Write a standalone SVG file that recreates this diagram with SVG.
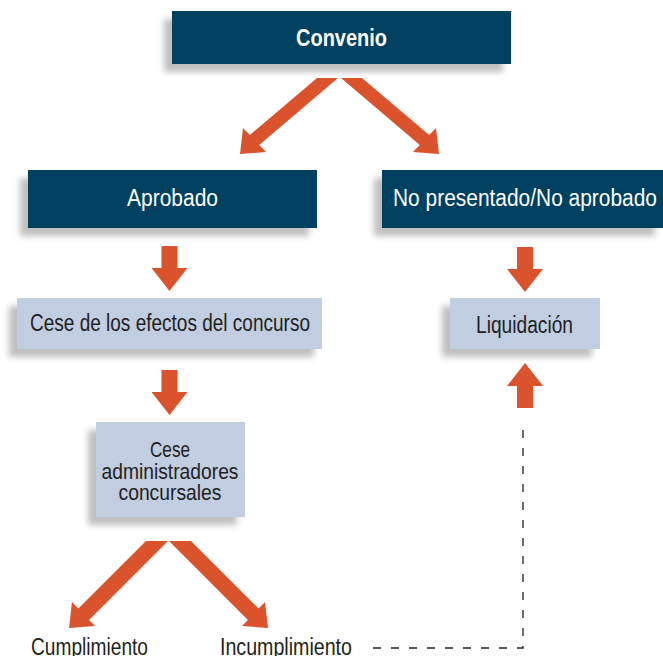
<svg xmlns="http://www.w3.org/2000/svg" xmlns:xlink="http://www.w3.org/1999/xlink" width="663" height="656" viewBox="0 0 663 656">
  <style>
    .dark { fill: #003f60; }
    .light { fill: #c1cde0; }
    .box { filter: url(#shadow); }
    .t { font-family: "Liberation Sans", Arial, sans-serif; text-anchor: middle; }
    .tw { fill: #ffffff; font-size: 23px; }
    .tb { fill: #ffffff; font-size: 24px; font-weight: bold; }
    .td { fill: #231f20; font-size: 23px; }
    .ts { fill: #231f20; font-size: 22px; }
    .arrow { fill: #da532c; }
    .dash { fill: none; stroke: #231f20; stroke-width: 1.3; stroke-dasharray: 8 10; }
  </style>
  <defs>
    <filter id="shadow" x="-20%" y="-30%" width="140%" height="170%">
      <feDropShadow dx="-8" dy="8" stdDeviation="3" flood-color="#000000" flood-opacity="0.25"/>
    </filter>
    <path id="arrowDown" d="M-8,0 H8 V22 H18 L0,45 L-18,22 H-8 Z"/>
  </defs>
  <rect width="663" height="656" fill="#ffffff"/>

  <g id="connectors">
    <polygon class="arrow" points="317,78 338,78 259.2,144.9 266,152 240,154 243,128 249.8,135.1"/>
    <polygon class="arrow" points="362,78 341,78 419.8,144.9 413,152 439,154 436,128 429.2,135.1"/>
    <use xlink:href="#arrowDown" href="#arrowDown" class="arrow" transform="translate(169.5,246)"/>
    <use xlink:href="#arrowDown" href="#arrowDown" class="arrow" transform="translate(169.5,370)"/>
    <use xlink:href="#arrowDown" href="#arrowDown" class="arrow" transform="translate(525,247)"/>
    <use xlink:href="#arrowDown" href="#arrowDown" class="arrow" transform="translate(525,408) scale(1,-1)"/>
    <polygon class="arrow" points="146,541 168,541 89.1,619.9 95,626 69,628 72,602 78.4,608.6"/>
    <polygon class="arrow" points="191,541 169,541 247.9,619.9 242,626 268,628 265,602 258.6,608.6"/>
    <path class="dash" d="M373,648 H523 V425"/>
  </g>

  <g id="node-convenio">
    <rect class="dark box" x="172" y="11" width="339" height="53"/>
    <text class="t tb" x="341.5" y="46" textLength="91" lengthAdjust="spacingAndGlyphs">Convenio</text>
  </g>

  <g id="node-aprobado">
    <rect class="dark box" x="28" y="170" width="289" height="58"/>
    <text class="t tw" x="172.5" y="206" textLength="91" lengthAdjust="spacingAndGlyphs">Aprobado</text>
  </g>

  <g id="node-no-aprobado">
    <rect class="dark box" x="382" y="170" width="281" height="58"/>
    <text class="t tw" x="525" y="206" textLength="264" lengthAdjust="spacingAndGlyphs">No presentado/No aprobado</text>
  </g>

  <g id="node-cese-efectos">
    <rect class="light box" x="17" y="298" width="305" height="51"/>
    <text class="t td" x="170" y="331" textLength="280" lengthAdjust="spacingAndGlyphs">Cese de los efectos del concurso</text>
  </g>

  <g id="node-liquidacion">
    <rect class="light box" x="450" y="298" width="150" height="51"/>
    <text class="t td" x="524.5" y="333" textLength="97" lengthAdjust="spacingAndGlyphs">Liquidación</text>
  </g>

  <g id="node-cese-admin">
    <rect class="light box" x="96" y="422" width="149" height="95"/>
    <text class="t ts" x="170" y="457" textLength="40" lengthAdjust="spacingAndGlyphs">Cese</text>
    <text class="t ts" x="170" y="479" textLength="137" lengthAdjust="spacingAndGlyphs">administradores</text>
    <text class="t ts" x="170" y="499.5" textLength="103" lengthAdjust="spacingAndGlyphs">concursales</text>
  </g>

  <g id="node-cumplimiento">
    <text class="t td" x="89.5" y="655" textLength="117" lengthAdjust="spacingAndGlyphs">Cumplimiento</text>
  </g>

  <g id="node-incumplimiento">
    <text class="t td" x="286" y="655" textLength="132" lengthAdjust="spacingAndGlyphs">Incumplimiento</text>
  </g>
</svg>
